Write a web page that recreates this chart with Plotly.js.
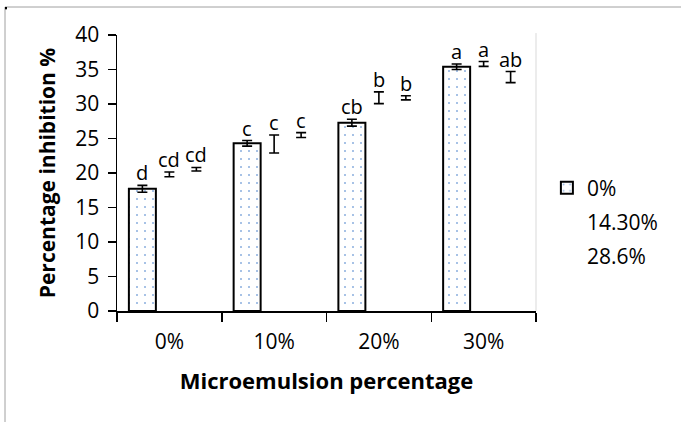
<!DOCTYPE html>
<html>
<head>
<meta charset="utf-8">
<script src="https://cdn.plot.ly/plotly-3.0.1.min.js"></script>
<style>html,body{margin:0;padding:0;background:#fff;}#chart{width:681px;height:422px;}</style>
</head>
<body>
<div id="chart"></div>
<script>
// ---- data ----
const categories = ['0%', '10%', '20%', '30%'];
const seriesNames = ['0%', '14.30%', '28.6%'];
const values0 = [17.7, 24.3, 27.3, 35.4];
const errors0 = [0.5, 0.4, 0.5, 0.4];
const letters0 = ['d', 'c', 'cb', 'a'];
const values1 = [19.8, 24.2, 30.9, 35.8];
const errors1 = [0.35, 1.3, 0.85, 0.35];
const letters1 = ['cd', 'c', 'b', 'a'];
const values2 = [20.55, 25.5, 30.9, 33.9];
const errors2 = [0.25, 0.35, 0.3, 0.8];
const letters2 = ['cd', 'c', 'b', 'ab'];

const FONT = '"Open Sans", "Noto Sans", sans-serif';
const bargap = 0.227;
const barW = (1 - bargap) / 3;

const allValues = [values0, values1, values2];
const allErrors = [errors0, errors1, errors2];
const allLetters = [letters0, letters1, letters2];

const errStyle = (arr) => ({type: 'data', array: arr, visible: true, color: '#000', thickness: 1.6, width: 5});

const traces = allValues.map((vals, i) => ({
  type: 'bar',
  name: seriesNames[i],
  x: categories,
  y: vals,
  legendgroup: 'g' + i,
  error_y: errStyle(allErrors[i]),
  marker: i === 0 ? {
    color: '#ffffff',
    line: {color: '#000', width: 2},
    pattern: {shape: '.', fgcolor: '#8aaede', bgcolor: '#ffffff', size: 8, solidity: 0.05}
  } : {color: 'rgba(0,0,0,0)', line: {width: 0}},
  hoverinfo: 'skip'
}));

const annotations = [];
allValues.forEach((vals, i) => {
  vals.forEach((v, j) => {
    annotations.push({
      xref: 'x', yref: 'y',
      x: j + (i - 1) * barW,
      y: v + allErrors[i][j],
      text: allLetters[i][j],
      showarrow: false,
      yanchor: 'bottom',
      yshift: -3,
      font: {family: FONT, size: 20, color: '#000'}
    });
  });
});

const layout = {
  width: 681, height: 422,
  margin: {l: 117, r: 145, t: 35, b: 111},
  paper_bgcolor: '#fff', plot_bgcolor: '#fff',
  barmode: 'group', bargap: bargap, bargroupgap: 0,
  font: {family: FONT, size: 21, color: '#000'},
  xaxis: {
    type: 'category',
    showline: true, linecolor: '#000', linewidth: 1.5,
    ticks: 'outside', tickson: 'boundaries', ticklen: 9, tickwidth: 1.5, tickcolor: '#000',
    tickfont: {family: FONT, size: 21},
    ticklabelstandoff: 11,
    showgrid: false, zeroline: false,
    title: {text: '<b>Microemulsion percentage</b>', font: {family: FONT, size: 22}, standoff: 20}
  },
  yaxis: {
    range: [0, 40], dtick: 5,
    showline: true, linecolor: '#000', linewidth: 1.5,
    ticks: 'outside', ticklen: 8, tickwidth: 1.5, tickcolor: '#000',
    tickfont: {family: FONT, size: 21},
    ticklabelstandoff: 4,
    showgrid: false, zeroline: false,
    title: {text: '<b>Percentage inhibition %</b>', font: {family: FONT, size: 21}, standoff: 14}
  },
  showlegend: true,
  legend: {
    x: 1.026, y: 0.52, xanchor: 'left', yanchor: 'top',
    font: {family: FONT, size: 21, color: '#000'},
    traceorder: 'grouped', tracegroupgap: 4,
    bgcolor: 'rgba(0,0,0,0)', borderwidth: 0
  },
  annotations: annotations,
  shapes: [
    {type: 'line', xref: 'paper', yref: 'paper', x0: 1, x1: 1, y0: 0, y1: 1.007, line: {color: '#d9d9d9', width: 1}},
    {type: 'line', xref: 'paper', yref: 'paper', x0: -0.2673, x1: 1.35, y0: 1.1014, y1: 1.1014, line: {color: '#a0a0a0', width: 1}},
    {type: 'line', xref: 'paper', yref: 'paper', x0: -0.2673, x1: -0.2673, y0: 1.1014, y1: -0.41, line: {color: '#a0a0a0', width: 1}},
    {type: 'rect', xref: 'paper', yref: 'paper', x0: -0.2673, x1: -0.2625, y0: 1.1014, y1: 1.093, fillcolor: '#000', line: {width: 0}}
  ]
};

Plotly.newPlot('chart', traces, layout, {displayModeBar: false, staticPlot: true});
</script>
</body>
</html>
